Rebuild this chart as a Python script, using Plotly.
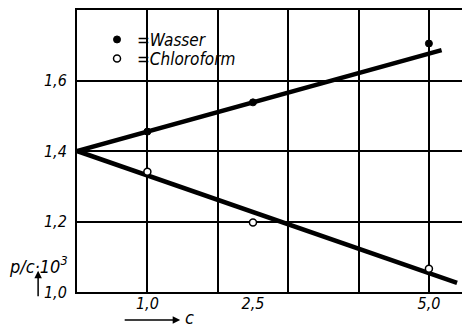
import plotly.graph_objects as go

# Data
c_points = [1.0, 2.5, 5.0]
wasser = [1.455, 1.538, 1.705]
chloroform = [1.341, 1.197, 1.066]

# fitted straight lines as drawn in the figure
line_x_w = [0.0, 5.18]
line_y_w = [1.400, 1.686]
line_x_c = [0.0, 5.40]
line_y_c = [1.400, 1.026]

x_ticks = [1.0, 2.5, 5.0]
x_ticktext = ["1,0", "2,5", "5,0"]
x_grid = [0, 1, 2, 3, 4, 5]
y_grid = [1.0, 1.2, 1.4, 1.6, 1.8]
y_ticktext = ["1,0", "1,2", "1,4", "1,6", ""]

FONT = "DejaVu Sans Condensed, DejaVu Sans, sans-serif"

fig = go.Figure()
fig.add_trace(go.Scatter(x=line_x_w, y=line_y_w, mode="lines",
                         line=dict(color="black", width=4.5), showlegend=False,
                         cliponaxis=False))
fig.add_trace(go.Scatter(x=line_x_c, y=line_y_c, mode="lines",
                         line=dict(color="black", width=4.5), showlegend=False,
                         cliponaxis=False))
fig.add_trace(go.Scatter(x=c_points, y=wasser, mode="markers", name="=Wasser",
                         legend="legend",
                         marker=dict(color="black", size=7, symbol="circle",
                                     line=dict(color="black", width=1))))
fig.add_trace(go.Scatter(x=c_points, y=chloroform, mode="markers", name="=Chloroform",
                         legend="legend2",
                         marker=dict(color="white", size=7, symbol="circle",
                                     line=dict(color="black", width=1.5))))
# invisible trace on overlay axis carrying the tick labels
fig.add_trace(go.Scatter(x=[0], y=[1.0], xaxis="x2", mode="markers",
                         marker=dict(opacity=0), showlegend=False, hoverinfo="skip"))

legend_font = dict(family=FONT, size=17, style="italic")
fig.update_layout(
    width=462, height=326,
    margin=dict(l=77, r=0, t=10, b=34),
    paper_bgcolor="white", plot_bgcolor="white",
    font=dict(family=FONT, color="black", size=14, style="italic"),
    xaxis=dict(range=[0, 5.47], tickvals=x_grid, showticklabels=False,
               showgrid=True, gridcolor="black", gridwidth=1.5,
               showline=True, linecolor="black", linewidth=2, mirror=True,
               zeroline=False, ticks=""),
    xaxis2=dict(range=[0, 5.47], overlaying="x", anchor="y", side="bottom",
                tickvals=x_ticks, ticktext=x_ticktext, showgrid=False,
                zeroline=False, showline=False, ticks="",
                tickfont=dict(family=FONT, size=16, style="italic")),
    yaxis=dict(range=[1.0, 1.8], tickvals=y_grid, ticktext=y_ticktext,
               showgrid=True, gridcolor="black", gridwidth=1.5,
               showline=True, linecolor="black", linewidth=2,
               zeroline=False, ticks="", ticklabelstandoff=5,
               tickfont=dict(family=FONT, size=16, style="italic")),
    legend=dict(x=0.052, y=0.894, xanchor="left", yanchor="middle",
                bgcolor="rgba(0,0,0,0)", font=legend_font, itemwidth=30),
    legend2=dict(x=0.052, y=0.826, xanchor="left", yanchor="middle",
                 bgcolor="rgba(0,0,0,0)", font=legend_font, itemwidth=30),
    showlegend=True,
)

fig.add_annotation(xref="paper", yref="paper", x=-0.018, y=0.096,
                   text="p/c·10<sup>3</sup>", showarrow=False, xanchor="right",
                   yanchor="middle",
                   font=dict(family=FONT, size=18, style="italic"))
# upward arrow under the y label
fig.add_annotation(xref="paper", yref="paper", x=-0.101, y=0.075,
                   ax=0, ay=27, text="", showarrow=True, arrowhead=2,
                   arrowsize=1, arrowwidth=1.5, arrowcolor="black")
# arrow to the right for the x label
fig.add_annotation(xref="paper", yref="paper", x=0.268, y=-0.099,
                   ax=-57, ay=0, text="", showarrow=True, arrowhead=2,
                   arrowsize=1, arrowwidth=1.5, arrowcolor="black")
fig.add_annotation(xref="paper", yref="paper", x=0.275, y=-0.092,
                   text="c", showarrow=False, xanchor="left", yanchor="middle",
                   font=dict(family=FONT, size=18, style="italic"))

fig.write_html("out.html", config={"displayModeBar": False},
               post_script="document.body.style.margin='0';document.body.style.overflow='hidden';")
